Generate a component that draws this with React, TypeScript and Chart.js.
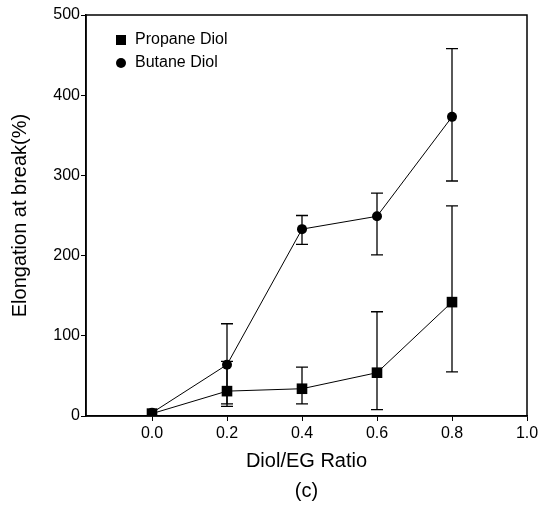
import React, { useEffect, useRef } from "react";
import { Chart, registerables } from "chart.js";

Chart.register(...registerables);

const ratios = [0.0, 0.2, 0.4, 0.6, 0.8];
const propaneValues = [3, 31, 34, 54, 142];
const propaneLow = [3, 15, 15, 8, 55];
const propaneHigh = [3, 68, 61, 130, 262];
const butaneValues = [4, 64, 233, 249, 373];
const butaneLow = [4, 12, 214, 201, 293];
const butaneHigh = [4, 115, 250, 278, 458];
const xTickValues = [0.0, 0.2, 0.4, 0.6, 0.8, 1.0];
const seriesNames = ["Propane Diol", "Butane Diol"];

const FONT = "'Liberation Sans', Arial, sans-serif";

const errorBars = [
  { low: propaneLow, high: propaneHigh },
  { low: butaneLow, high: butaneHigh },
];

const errorBarPlugin = {
  id: "errorBars",
  beforeDatasetsDraw(chart: any) {
    const ctx = chart.ctx;
    const xs = chart.scales.x;
    const ys = chart.scales.y;
    ctx.save();
    ctx.strokeStyle = "#000";
    ctx.lineWidth = 1.3;
    errorBars.forEach((eb) => {
      ratios.forEach((r, i) => {
        const px = xs.getPixelForValue(r);
        const yl = ys.getPixelForValue(eb.low[i]);
        const yh = ys.getPixelForValue(eb.high[i]);
        if (Math.abs(yl - yh) < 1) return;
        ctx.beginPath();
        ctx.moveTo(px, yl);
        ctx.lineTo(px, yh);
        ctx.moveTo(px - 6, yl);
        ctx.lineTo(px + 6, yl);
        ctx.moveTo(px - 6, yh);
        ctx.lineTo(px + 6, yh);
        ctx.stroke();
      });
    });
    ctx.restore();
  },
};

const framePlugin = {
  id: "frame",
  afterDraw(chart: any) {
    const { ctx, chartArea } = chart;
    ctx.save();
    ctx.strokeStyle = "#000";
    ctx.lineWidth = 1.5;
    ctx.strokeRect(chartArea.left, chartArea.top, chartArea.right - chartArea.left, chartArea.bottom - chartArea.top);
    // legend
    const lx = chartArea.left + 35;
    const ly1 = chartArea.top + 25;
    const ly2 = chartArea.top + 48;
    ctx.fillStyle = "#000";
    ctx.fillRect(lx - 5, ly1 - 5, 10, 10);
    ctx.beginPath();
    ctx.arc(lx, ly2, 5, 0, Math.PI * 2);
    ctx.fill();
    ctx.font = `16px ${FONT}`;
    ctx.textBaseline = "middle";
    ctx.textAlign = "left";
    ctx.fillText(seriesNames[0], lx + 14, ly1);
    ctx.fillText(seriesNames[1], lx + 14, ly2);
    ctx.restore();
  },
};

export default function App() {
  const ref = useRef<HTMLCanvasElement>(null);
  useEffect(() => {
    if (!ref.current) return;
    const chart = new Chart(ref.current, {
      type: "scatter",
      data: {
        datasets: [
          {
            label: seriesNames[0],
            data: ratios.map((r, i) => ({ x: r, y: propaneValues[i] })),
            showLine: true,
            borderColor: "#000",
            borderWidth: 1,
            backgroundColor: "#000",
            pointStyle: "rect",
            pointRadius: 7.5,
            pointBorderWidth: 0,
          },
          {
            label: seriesNames[1],
            data: ratios.map((r, i) => ({ x: r, y: butaneValues[i] })),
            showLine: true,
            borderColor: "#000",
            borderWidth: 1,
            backgroundColor: "#000",
            pointStyle: "circle",
            pointRadius: 5,
            pointBorderWidth: 0,
          },
        ],
      },
      options: {
        responsive: false,
        animation: false,
        layout: { padding: { left: 0, right: 20, top: 15, bottom: 0 } },
        plugins: { legend: { display: false }, tooltip: { enabled: false } },
        scales: {
          x: {
            type: "linear",
            min: -0.176,
            max: 1.0,
            afterFit: (s: any) => {
              s.height = 90;
            },
            afterBuildTicks: (s: any) => {
              s.ticks = xTickValues.map((v) => ({ value: v }));
            },
            ticks: {
              color: "#000",
              font: { family: FONT, size: 16 },
              padding: 3,
              maxRotation: 0,
              callback: (v: any) => Number(v).toFixed(1),
            },
            grid: { drawOnChartArea: false, drawTicks: true, tickLength: 5, color: "#000" },
            border: { color: "#000", width: 1.5 },
            title: {
              display: true,
              text: ["Diol/EG Ratio", "(c)"],
              color: "#000",
              font: { family: FONT, size: 20, lineHeight: 1.5 },
              padding: { top: 0, bottom: 0 },
            },
          },
          y: {
            min: 0,
            max: 500,
            afterFit: (s: any) => {
              s.width = 86;
            },
            ticks: {
              stepSize: 100,
              color: "#000",
              font: { family: FONT, size: 16 },
              padding: 1,
            },
            grid: { drawOnChartArea: false, drawTicks: true, tickLength: 5, color: "#000" },
            border: { color: "#000", width: 1.5 },
            title: {
              display: true,
              text: "Elongation at break(%)",
              color: "#000",
              font: { family: FONT, size: 20 },
              padding: { top: 8, bottom: 0 },
            },
          },
        },
      },
      plugins: [errorBarPlugin, framePlugin],
    });
    return () => chart.destroy();
  }, []);
  return (
    <div style={{ position: "absolute", left: 0, top: 0, width: 547, height: 506, background: "#fff" }}>
      <canvas ref={ref} width={547} height={506} />
    </div>
  );
}
